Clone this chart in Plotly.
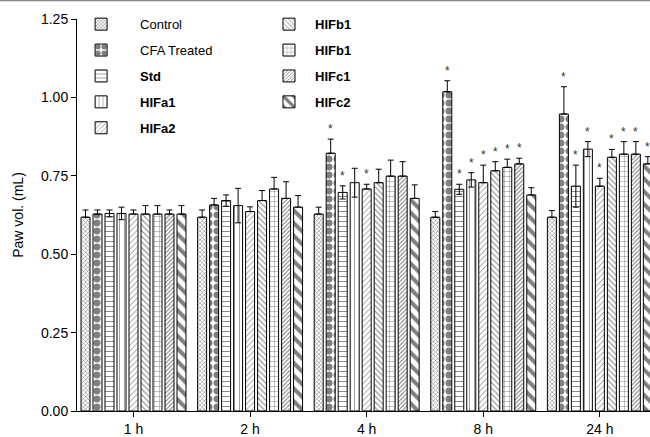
import plotly.graph_objects as go

# ---- data ----
time_points = ["1 h", "2 h", "4 h", "8 h", "24 h"]

series_names = ["Control", "CFA Treated", "<b>Std</b>", "<b>HIFa1</b>", "<b>HIFa2</b>",
                "<b>HIFb1</b>", "<b>HIFb1</b>", "<b>HIFc1</b>", "<b>HIFc2</b>"]

control = [0.618, 0.618, 0.628, 0.618, 0.618]
control_err = [0.023, 0.023, 0.022, 0.018, 0.021]
cfa = [0.628, 0.657, 0.822, 1.018, 0.947]
cfa_err = [0.013, 0.021, 0.045, 0.035, 0.087]
std = [0.630, 0.671, 0.697, 0.707, 0.717]
std_err = [0.011, 0.018, 0.021, 0.016, 0.067]
hifa1 = [0.630, 0.655, 0.728, 0.737, 0.835]
hifa1_err = [0.020, 0.055, 0.046, 0.023, 0.024]
hifa2 = [0.628, 0.636, 0.708, 0.728, 0.717]
hifa2_err = [0.013, 0.015, 0.015, 0.056, 0.025]
hifb1 = [0.628, 0.671, 0.728, 0.766, 0.809]
hifb1_err = [0.027, 0.032, 0.043, 0.029, 0.025]
hifb1_grid = [0.628, 0.708, 0.749, 0.777, 0.819]
hifb1_grid_err = [0.027, 0.037, 0.051, 0.026, 0.040]
hifc1 = [0.628, 0.678, 0.749, 0.788, 0.819]
hifc1_err = [0.013, 0.053, 0.046, 0.018, 0.040]
hifc2 = [0.628, 0.650, 0.678, 0.689, 0.788]
hifc2_err = [0.027, 0.037, 0.043, 0.023, 0.023]

# significance marks per series (per time point)
control_sig = ["", "", "", "", ""]
cfa_sig = ["", "", "*", "*", "*"]
std_sig = ["", "", "*", "*", "*"]
hifa1_sig = ["", "", "", "*", "*"]
hifa2_sig = ["", "", "*", "*", "*"]
hifb1_sig = ["", "", "", "*", "*"]
hifb1_grid_sig = ["", "", "", "*", "*"]
hifc1_sig = ["", "", "", "*", "*"]
hifc2_sig = ["", "", "", "", "*"]

y_ticks = [0, 0.25, 0.5, 0.75, 1.0, 1.25]
y_ticktext = ["0.00", "0.25", "0.50", "0.75", "1.00", "1.25"]

values = [control, cfa, std, hifa1, hifa2, hifb1, hifb1_grid, hifc1, hifc2]
errors = [control_err, cfa_err, std_err, hifa1_err, hifa2_err, hifb1_err,
          hifb1_grid_err, hifc1_err, hifc2_err]
sigs = [control_sig, cfa_sig, std_sig, hifa1_sig, hifa2_sig, hifb1_sig,
        hifb1_grid_sig, hifc1_sig, hifc2_sig]

# ---- styles ----
patterns = [
    dict(shape="x", size=3, solidity=0.35),
    dict(shape=".", size=8, solidity=0.6),
    dict(shape="-", size=5, solidity=0.18),
    dict(shape="|", size=5, solidity=0.15),
    dict(shape="/", size=4, solidity=0.22),
    dict(shape="\\", size=4, solidity=0.25),
    dict(shape="+", size=5, solidity=0.18),
    dict(shape="/", size=3, solidity=0.35),
    dict(shape="\\", size=9, solidity=0.45),
]
two_sided = [False, False, True, True, False, False, False, False, False]
legends = ["legend"] * 5 + ["legend2"] * 4

BARGAP = 0.074
fig = go.Figure()
for i, (name, v, e) in enumerate(zip(series_names, values, errors)):
    p = dict(patterns[i])
    p.update(fgcolor="black", bgcolor="white", fillmode="overlay")
    fig.add_trace(go.Bar(
        x=time_points, y=v, name=name,
        marker=dict(color="white", line=dict(color="black", width=1), pattern=p),
        error_y=dict(type="data", array=e,
                     arrayminus=e if two_sided[i] else [0] * len(e),
                     symmetric=False, color="black", thickness=1, width=3),
        legend=legends[i], legendgroup=f"g{i}",
    ))

# asterisks above error bars
n = len(values)
slot = (1 - BARGAP) / n
annotations = []
for i in range(n):
    for g, mark in enumerate(sigs[i]):
        if mark:
            annotations.append(dict(
                x=g + (i - (n - 1) / 2) * slot, y=values[i][g] + errors[i][g],
                xref="x", yref="y", text=mark, showarrow=False,
                yanchor="bottom", yshift=1, font=dict(size=12, color="#333")))

fig.update_layout(
    width=650, height=437,
    margin=dict(l=77, r=0, t=19, b=26),
    paper_bgcolor="white", plot_bgcolor="white",
    font=dict(family="Arial, Liberation Sans, sans-serif", size=14, color="black"),
    barmode="group", bargap=BARGAP, bargroupgap=0.25,
    annotations=annotations,
    shapes=[dict(type="line", xref="paper", yref="paper", x0=-0.2, x1=1.0,
                 y0=1.0472, y1=1.0472, line=dict(color="#888", width=1.5))],
    xaxis=dict(range=[-0.4846, 4.43], showline=True, linecolor="black", linewidth=1,
               ticks="outside", ticklen=5, tickcolor="black", showgrid=False,
               tickfont=dict(size=14), automargin=False, ticklabelstandoff=0),
    yaxis=dict(range=[0, 1.25], tickvals=y_ticks, ticktext=y_ticktext,
               showline=True, linecolor="black", linewidth=1, ticks="outside",
               ticklen=5, tickcolor="black", showgrid=False, zeroline=False,
               title=dict(text="Paw vol. (mL)", font=dict(size=14), standoff=14),
               tickfont=dict(size=14), automargin=False),
    legend=dict(x=-0.026, y=1.025, xanchor="left", yanchor="top", traceorder="grouped",
                tracegroupgap=6, font=dict(size=13), bgcolor="rgba(0,0,0,0)",
                itemwidth=68),
    legend2=dict(x=0.3246, y=1.025, xanchor="left", yanchor="top", traceorder="grouped",
                 tracegroupgap=6, font=dict(size=13), bgcolor="rgba(0,0,0,0)",
                 itemwidth=42),
)

fig.write_html("out.html", config={"displayModeBar": False},
               post_script="document.body.style.margin='0';")
